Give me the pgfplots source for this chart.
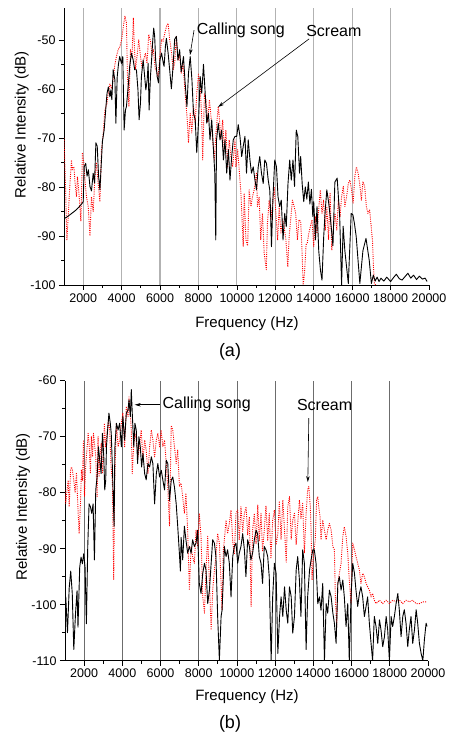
\documentclass[border=0pt]{standalone}
\usepackage{pgfplots}
\pgfplotsset{compat=1.18}
\usepackage{fontspec}
\setmainfont{Liberation Sans}
\usetikzlibrary{arrows.meta}
\pgfplotsset{
  myax/.style={
    scale only axis,
    axis lines=left,
    axis line style={-, line width=0.8pt},
    xmin=1000, xmax=20000,
    xtick={2000,4000,...,18000},
    extra x ticks={20000},
    extra x tick style={grid=none},
    minor x tick num=1,
    minor y tick num=1,
    tick align=outside,
    major tick length=5pt, minor tick length=3pt,
    tick style={black, line width=0.7pt},
    xmajorgrids,
    scaled x ticks=false,
    /pgf/number format/1000 sep={},
    /pgf/number format/assume math mode=true,
    tick label style={font=\fontsize{12.5}{14}\selectfont},
  },
  blk/.style={black, line width=0.9pt, line join=round},
  rd/.style={red, line width=0.9pt, dash pattern=on 1pt off 1.2pt, line join=round},
}
\begin{document}
\begin{tikzpicture}[x=1pt,y=1pt]
\useasboundingbox (0pt,0pt) rectangle (449pt,735pt);
% ---------------- panel (a)
\begin{axis}[myax, at={(64pt,450pt)}, anchor=south west, width=365pt, height=277pt,
  ymin=-100, ymax=-43.5, ytick={-100,-90,...,-50},
  major grid style={gray!60, line width=1.2pt}]
\addplot[rd] coordinates {
(1000,-70.0) (1080,-80.0) (1150,-90.8) (1220,-86.0) (1300,-80.0) (1390,-74.5) (1430,-76.5) (1480,-75.9) (1520,-76.0) (1570,-79.0) (1650,-82.0) (1700,-78.0) (1750,-80.0) (1800,-82.5) (1880,-87.0) (1960,-73.0) (2030,-75.0) (2100,-79.0) (2170,-82.0) (2260,-84.0) (2350,-90.0) (2430,-82.0) (2520,-85.0) (2610,-78.0) (2690,-75.0) (2780,-79.5) (2870,-83.0) (2950,-72.5) (3030,-69.7) (3130,-64.3) (3230,-63.0) (3300,-61.0) (3390,-59.0) (3480,-60.0) (3560,-58.0) (3650,-55.0) (3730,-53.4) (3820,-52.0) (3900,-51.5) (4000,-50.0) (4100,-47.0) (4170,-45.2) (4250,-46.5) (4300,-57.0) (4380,-63.6) (4460,-52.0) (4540,-53.7) (4610,-45.5) (4650,-50.0) (4720,-56.0) (4800,-53.4) (4890,-50.0) (4980,-53.4) (5070,-55.9) (5150,-54.0) (5240,-52.7) (5320,-54.8) (5410,-48.9) (5500,-50.3) (5580,-53.0) (5650,-52.0) (5750,-55.9) (5830,-56.5) (5900,-57.5) (5990,-53.4) (6080,-49.9) (6160,-50.3) (6250,-48.6) (6330,-47.3) (6420,-46.6) (6500,-49.9) (6600,-52.7) (6680,-56.1) (6760,-54.8) (6850,-49.3) (6940,-54.1) (7020,-53.0) (7100,-56.8) (7200,-55.0) (7330,-62.2) (7410,-66.0) (7480,-71.0) (7570,-65.0) (7650,-69.0) (7740,-63.6) (7830,-67.0) (7910,-61.0) (8000,-57.0) (8090,-59.5) (8170,-66.0) (8220,-74.5) (8310,-61.0) (8390,-62.2) (8480,-66.8) (8570,-62.2) (8650,-65.6) (8740,-70.4) (8830,-74.5) (8910,-69.0) (9030,-63.6) (9080,-65.6) (9170,-70.4) (9260,-66.3) (9340,-72.4) (9430,-68.4) (9520,-75.9) (9600,-70.4) (9690,-73.8) (9780,-75.9) (9900,-70.4) (9950,-75.9) (10040,-72.4) (10120,-76.5) (10210,-81.3) (10330,-92.2) (10380,-81.3) (10470,-90.8) (10560,-92.0) (10640,-80.6) (10730,-84.0) (10810,-82.0) (10900,-80.6) (11020,-77.2) (11070,-84.0) (11160,-82.0) (11240,-90.8) (11330,-85.4) (11420,-93.5) (11530,-96.9) (11590,-87.4) (11680,-82.7) (11770,-86.7) (11940,-80.0) (12030,-85.4) (12120,-90.8) (12200,-84.0) (12290,-89.4) (12380,-86.7) (12460,-88.1) (12550,-90.8) (12650,-96.3) (12720,-90.1) (12890,-82.7) (12980,-84.0) (13060,-85.4) (13150,-90.8) (13230,-86.7) (13320,-87.0) (13380,-92.0) (13450,-100.0) (13520,-97.6) (13600,-91.8) (13660,-91.5) (13740,-89.5) (13830,-88.0) (13910,-86.7) (14000,-92.2) (14085,-86.0) (14170,-89.5) (14250,-85.0) (14340,-80.6) (14430,-85.4) (14510,-82.7) (14600,-88.8) (14680,-84.0) (14770,-90.8) (14850,-81.3) (14940,-92.9) (15030,-88.1) (15110,-85.4) (15200,-88.8) (15280,-82.7) (15370,-86.0) (15450,-82.0) (15540,-79.9) (15620,-84.0) (15710,-82.0) (15800,-79.3) (15880,-78.6) (15970,-80.6) (16050,-83.3) (16140,-77.9) (16220,-75.9) (16310,-77.2) (16390,-79.3) (16480,-82.7) (16560,-78.9) (16650,-79.9) (16740,-84.0) (16820,-85.4) (16910,-84.7) (16990,-88.1) (17060,-91.0) (17110,-96.3) (17160,-99.7) (17220,-100.0)
};
\addplot[blk] coordinates {
(1000,-86.5) (1200,-86.0) (1400,-85.4) (1600,-84.8) (1800,-84.0) (1950,-83.3) (2000,-83.0) (2050,-75.9) (2130,-75.2) (2200,-77.8) (2270,-76.5) (2350,-79.9) (2430,-80.8) (2520,-77.2) (2590,-79.2) (2660,-71.0) (2730,-71.7) (2800,-77.8) (2870,-80.6) (2950,-74.5) (3000,-70.7) (3090,-68.4) (3170,-64.3) (3240,-60.9) (3310,-59.6) (3390,-61.6) (3440,-60.2) (3490,-62.2) (3560,-56.1) (3650,-58.2) (3700,-67.0) (3770,-57.5) (3840,-54.8) (3900,-53.4) (3990,-54.8) (4060,-53.4) (4130,-68.4) (4200,-64.3) (4250,-63.6) (4340,-59.6) (4420,-55.4) (4510,-52.7) (4600,-54.1) (4680,-56.1) (4770,-56.1) (4850,-60.2) (4910,-66.3) (4980,-62.9) (5030,-57.5) (5120,-54.1) (5200,-57.5) (5260,-60.2) (5330,-58.2) (5380,-54.8) (5430,-64.3) (5500,-57.5) (5560,-54.1) (5610,-50.7) (5670,-47.6) (5720,-49.3) (5770,-54.1) (5850,-57.5) (5920,-58.8) (5990,-54.1) (6080,-52.7) (6170,-54.8) (6210,-55.4) (6280,-51.3) (6330,-49.7) (6420,-52.7) (6500,-56.1) (6590,-60.0) (6680,-55.2) (6760,-49.9) (6850,-49.3) (6930,-54.1) (7020,-52.0) (7100,-56.5) (7220,-53.4) (7300,-58.5) (7400,-63.6) (7480,-56.8) (7570,-53.4) (7660,-58.2) (7740,-65.0) (7830,-66.3) (7910,-73.0) (8000,-66.9) (8090,-57.5) (8170,-60.9) (8260,-55.0) (8350,-60.9) (8430,-67.0) (8520,-65.0) (8600,-70.4) (8690,-66.3) (8780,-72.4) (8850,-77.2) (8900,-90.8) (8940,-70.4) (9030,-67.0) (9120,-70.4) (9210,-68.4) (9300,-74.5) (9380,-70.4) (9470,-77.2) (9560,-72.4) (9640,-78.6) (9730,-73.8) (9810,-70.4) (9900,-69.7) (9990,-69.7) (10070,-67.3) (10160,-69.7) (10250,-73.8) (10330,-71.7) (10420,-69.7) (10500,-77.2) (10590,-70.4) (10680,-74.5) (10760,-77.2) (10850,-75.9) (10940,-78.6) (11020,-80.6) (11110,-75.9) (11190,-73.8) (11280,-77.2) (11370,-79.3) (11450,-74.5) (11540,-75.2) (11630,-78.6) (11710,-80.6) (11750,-84.7) (11800,-92.2) (11880,-82.0) (11970,-74.5) (12060,-75.9) (12140,-82.0) (12230,-84.0) (12310,-82.7) (12400,-90.8) (12490,-85.4) (12570,-88.1) (12660,-79.3) (12750,-74.5) (12830,-78.6) (12920,-74.5) (13000,-79.9) (13090,-68.4) (13170,-69.7) (13260,-77.2) (13320,-73.8) (13400,-79.5) (13480,-83.0) (13560,-80.0) (13640,-82.5) (13720,-79.0) (13800,-83.5) (13880,-80.5) (13950,-86.0) (14000,-83.0) (14090,-90.8) (14170,-84.0) (14260,-93.0) (14350,-97.0) (14430,-99.0) (14520,-90.0) (14600,-84.7) (14680,-80.6) (14770,-83.0) (14860,-86.1) (15000,-92.0) (15100,-79.0) (15220,-78.2) (15350,-86.0) (15450,-100.0) (15530,-88.0) (15620,-93.0) (15800,-99.7) (15950,-85.4) (16040,-85.7) (16120,-87.5) (16210,-90.1) (16400,-99.7) (16560,-93.0) (16720,-90.5) (16890,-95.0) (17000,-99.7) (17100,-98.0) (17200,-99.2) (17300,-98.4) (17400,-99.3) (17500,-98.6) (17650,-99.2) (17800,-98.4) (18000,-99.3) (18150,-98.5) (18300,-97.8) (18450,-98.7) (18600,-99.0) (18750,-98.3) (18900,-97.6) (19050,-98.6) (19200,-98.0) (19350,-98.9) (19500,-98.2) (19650,-98.8) (19800,-98.6) (19900,-99.3)
};
\node[anchor=west, inner sep=0pt, font=\fontsize{16}{18}\selectfont] at (axis cs:7900,-48.0) {Calling song};
\draw[line width=0.6pt, -{Stealth[length=6pt,width=3.5pt]}] (axis cs:7770,-48.0) -- (axis cs:7560,-53.1);
\node[anchor=west, inner sep=0pt, font=\fontsize{16}{18}\selectfont] at (axis cs:13600,-48.2) {Scream};
\draw[line width=0.6pt, -{Stealth[length=6pt,width=3.5pt]}] (axis cs:13760,-49.8) -- (axis cs:9021,-63.7);
\end{axis}
% ---------------- panel (b)
\begin{axis}[myax, at={(65pt,74.3pt)}, anchor=south west, width=363pt, height=280pt,
  ymin=-110, ymax=-60, ytick={-110,-100,...,-60},
  major grid style={gray!85!black, line width=0.7pt}]
\addplot[rd] coordinates {
(1000,-79.5) (1040,-81.9) (1130,-78.8) (1170,-77.8) (1220,-82.5) (1290,-76.0) (1340,-75.4) (1390,-76.0) (1460,-77.8) (1530,-80.0) (1600,-76.4) (1690,-83.7) (1740,-87.3) (1810,-81.9) (1860,-75.9) (1910,-77.8) (1970,-70.6) (2020,-80.7) (2090,-74.8) (2160,-71.8) (2210,-69.4) (2260,-71.2) (2330,-76.6) (2380,-70.0) (2440,-73.6) (2490,-69.4) (2560,-71.8) (2610,-73.6) (2680,-80.7) (2730,-70.0) (2780,-77.2) (2850,-73.0) (2900,-71.2) (2960,-76.6) (3010,-73.6) (3060,-67.6) (3130,-71.8) (3200,-69.4) (3270,-67.0) (3340,-68.8) (3410,-75.4) (3480,-77.8) (3550,-95.6) (3600,-77.8) (3690,-67.6) (3780,-71.8) (3860,-70.6) (3950,-67.6) (4030,-65.8) (4120,-71.8) (4210,-64.6) (4300,-66.4) (4350,-62.9) (4400,-64.6) (4470,-68.8) (4520,-76.6) (4590,-71.8) (4660,-69.4) (4730,-70.6) (4820,-73.6) (4900,-71.8) (4990,-68.8) (5080,-74.2) (5170,-70.6) (5250,-72.4) (5340,-76.6) (5430,-71.8) (5520,-68.8) (5600,-70.6) (5690,-73.6) (5780,-70.6) (5860,-69.4) (5950,-71.8) (6030,-68.8) (6120,-71.8) (6210,-70.6) (6300,-74.8) (6380,-79.0) (6470,-86.0) (6560,-68.0) (6640,-68.8) (6730,-71.8) (6820,-74.8) (6900,-72.4) (6990,-78.9) (7075,-78.3) (7160,-80.7) (7250,-83.7) (7330,-80.1) (7420,-86.7) (7510,-97.4) (7600,-89.6) (7680,-91.4) (7770,-92.6) (7860,-86.7) (7950,-89.6) (8030,-83.7) (8120,-87.8) (8210,-98.6) (8300,-101.5) (8380,-93.8) (8470,-87.8) (8560,-96.2) (8650,-104.5) (8730,-97.4) (8820,-93.8) (8900,-91.4) (8990,-87.3) (9080,-89.0) (9170,-96.2) (9220,-101.0) (9290,-90.2) (9340,-88.4) (9430,-84.9) (9510,-87.3) (9600,-85.5) (9690,-83.1) (9780,-88.7) (9860,-91.0) (9950,-83.7) (10040,-83.1) (10120,-88.5) (10210,-82.5) (10300,-86.9) (10390,-83.7) (10480,-82.5) (10560,-87.5) (10650,-84.3) (10740,-100.3) (10820,-86.7) (10910,-83.7) (11000,-89.1) (11090,-82.2) (11170,-88.7) (11260,-83.7) (11340,-90.5) (11430,-86.7) (11520,-82.3) (11610,-88.6) (11690,-83.7) (11780,-91.8) (11870,-84.9) (11960,-83.1) (12050,-89.3) (12140,-87.3) (12220,-81.5) (12310,-88.3) (12400,-81.3) (12490,-86.7) (12580,-92.4) (12660,-82.5) (12750,-80.7) (12840,-88.3) (12920,-84.9) (13010,-83.7) (13100,-89.3) (13180,-85.5) (13270,-81.3) (13350,-84.6) (13440,-81.9) (13530,-90.8) (13620,-83.7) (13700,-79.5) (13760,-78.9) (13840,-82.5) (13880,-86.7) (13930,-95.6) (14000,-91.4) (14100,-88.4) (14170,-81.3) (14230,-80.7) (14280,-82.5) (14350,-84.3) (14400,-88.4) (14490,-84.9) (14580,-86.7) (14670,-88.4) (14750,-86.7) (14840,-85.5) (14930,-86.7) (15020,-89.6) (15100,-90.2) (15150,-98.6) (15220,-103.9) (15280,-96.2) (15360,-94.4) (15450,-92.6) (15540,-87.8) (15620,-86.1) (15710,-87.8) (15800,-90.8) (15880,-95.6) (15970,-99.8) (16060,-89.0) (16150,-90.2) (16230,-91.4) (16320,-92.6) (16410,-93.8) (16490,-96.2) (16580,-94.4) (16670,-95.0) (16760,-96.2) (16840,-96.8) (16930,-97.4) (17020,-98.6) (17100,-98.0) (17190,-99.2) (17280,-99.8) (17460,-99.2) (17630,-99.8) (17810,-99.2) (17980,-99.8) (18150,-99.2) (18330,-99.5) (18500,-99.2) (18680,-99.8) (18850,-99.2) (19020,-99.5) (19200,-99.2) (19380,-99.8) (19550,-99.8) (19730,-99.5) (19900,-99.5)
};
\addplot[blk] coordinates {
(1000,-110.0) (1040,-98.6) (1130,-105.0) (1220,-97.0) (1300,-94.0) (1380,-98.0) (1460,-108.0) (1550,-101.6) (1630,-97.5) (1680,-104.0) (1770,-93.3) (1840,-91.5) (1910,-92.7) (1980,-90.9) (2050,-93.3) (2120,-103.4) (2190,-89.7) (2260,-82.0) (2330,-82.5) (2400,-83.7) (2470,-82.0) (2540,-92.0) (2610,-79.5) (2680,-77.2) (2750,-71.8) (2820,-74.2) (2890,-76.6) (2960,-69.4) (3030,-73.6) (3080,-79.5) (3130,-77.8) (3170,-71.8) (3230,-68.8) (3300,-65.8) (3370,-67.6) (3420,-69.4) (3480,-75.4) (3570,-86.0) (3610,-72.0) (3690,-67.6) (3780,-68.8) (3860,-67.6) (3950,-71.8) (4030,-66.4) (4120,-70.6) (4210,-65.8) (4300,-65.2) (4350,-63.4) (4420,-66.4) (4470,-61.6) (4520,-65.8) (4600,-71.8) (4660,-67.6) (4730,-68.8) (4800,-74.8) (4870,-70.0) (4940,-71.8) (5010,-75.4) (5080,-73.0) (5170,-76.6) (5250,-77.7) (5340,-74.8) (5430,-75.4) (5520,-73.6) (5600,-74.8) (5690,-82.0) (5780,-76.6) (5860,-74.8) (5950,-77.2) (6040,-76.0) (6120,-77.7) (6210,-79.5) (6300,-74.2) (6380,-74.8) (6470,-81.4) (6560,-77.8) (6640,-77.2) (6730,-79.0) (6820,-82.0) (6900,-86.0) (6990,-91.0) (7040,-94.0) (7080,-88.0) (7160,-92.0) (7250,-86.0) (7330,-88.4) (7420,-90.8) (7510,-89.6) (7600,-90.8) (7680,-88.4) (7770,-89.6) (7860,-89.0) (7940,-86.7) (8030,-96.2) (8120,-98.0) (8210,-94.4) (8300,-92.6) (8380,-93.8) (8470,-99.8) (8560,-97.4) (8650,-92.6) (8730,-88.4) (8820,-89.0) (8900,-91.4) (8990,-102.1) (9080,-109.9) (9170,-102.1) (9220,-101.0) (9290,-95.0) (9340,-89.6) (9430,-91.4) (9510,-90.2) (9600,-92.6) (9690,-98.6) (9780,-91.4) (9860,-89.6) (9950,-89.0) (10040,-92.6) (10120,-90.8) (10210,-89.6) (10300,-87.3) (10390,-90.2) (10470,-95.0) (10560,-88.4) (10650,-89.6) (10730,-92.0) (10820,-90.8) (10910,-88.4) (11000,-86.7) (11080,-87.3) (11170,-91.4) (11260,-92.6) (11340,-96.2) (11430,-89.6) (11520,-90.2) (11610,-91.4) (11690,-95.0) (11790,-109.9) (11870,-98.6) (11960,-92.6) (12050,-94.4) (12140,-108.7) (12230,-102.1) (12310,-98.6) (12400,-102.1) (12490,-96.8) (12580,-101.0) (12660,-103.3) (12750,-96.8) (12840,-98.6) (12920,-105.1) (13010,-102.1) (13100,-93.8) (13180,-91.4) (13270,-95.6) (13350,-102.1) (13440,-90.2) (13530,-92.6) (13620,-108.0) (13700,-98.6) (13800,-93.8) (13880,-92.0) (13970,-90.2) (14050,-90.2) (14140,-92.6) (14230,-99.8) (14320,-98.6) (14400,-101.0) (14490,-96.2) (14580,-110.0) (14670,-99.8) (14750,-101.5) (14840,-97.4) (14930,-98.6) (15020,-101.5) (15100,-103.3) (15190,-106.9) (15280,-96.2) (15360,-95.0) (15450,-97.4) (15540,-95.6) (15620,-98.6) (15710,-103.9) (15800,-99.8) (15880,-110.0) (15970,-98.6) (16060,-92.6) (16150,-94.4) (16230,-97.4) (16320,-100.3) (16410,-98.0) (16490,-96.8) (16580,-98.6) (16670,-102.1) (16760,-100.3) (16840,-98.6) (16930,-103.3) (17020,-106.9) (17100,-110.0) (17190,-102.1) (17280,-103.9) (17370,-106.9) (17460,-102.7) (17540,-104.5) (17630,-107.5) (17720,-105.7) (17810,-102.1) (17890,-104.5) (17980,-110.0) (18070,-102.1) (18150,-103.9) (18240,-102.1) (18330,-99.8) (18420,-98.0) (18500,-101.0) (18590,-105.7) (18680,-102.1) (18760,-100.9) (18850,-103.3) (18940,-107.5) (19020,-104.5) (19110,-102.1) (19200,-106.9) (19290,-104.5) (19380,-100.9) (19460,-103.3) (19550,-106.9) (19640,-108.7) (19730,-110.0) (19810,-106.3) (19900,-103.3) (19950,-103.9)
};
\node[anchor=west, inner sep=0pt, font=\fontsize{16}{18}\selectfont] at (axis cs:6100,-64.2) {Calling song};
\draw[line width=0.6pt, -{Stealth[length=6pt,width=3.5pt]}] (axis cs:5950,-64.3) -- (axis cs:4650,-64.3);
\node[anchor=west, inner sep=0pt, font=\fontsize{16}{18}\selectfont] at (axis cs:13135,-64.3) {Scream};
\draw[line width=0.6pt, -{Stealth[length=6pt,width=3.5pt]}] (axis cs:13760,-66.7) -- (axis cs:13710,-78.1);
\end{axis}
% ---------------- labels
\node[rotate=90, font=\fontsize{15}{17}\selectfont] at (21.7pt,610pt) {Relative Intensity (dB)};
\node[font=\fontsize{15}{17}\selectfont] at (247pt,411pt) {Frequency (Hz)};
\node[font=\fontsize{18}{20}\selectfont] at (230pt,383pt) {(a)};
\node[rotate=90, font=\fontsize{15}{17}\selectfont] at (23pt,228pt) {Relative Intensity (dB)};
\node[font=\fontsize{15}{17}\selectfont] at (247pt,38pt) {Frequency (Hz)};
\node[font=\fontsize{18}{20}\selectfont] at (230pt,11pt) {(b)};
\end{tikzpicture}
\end{document}
